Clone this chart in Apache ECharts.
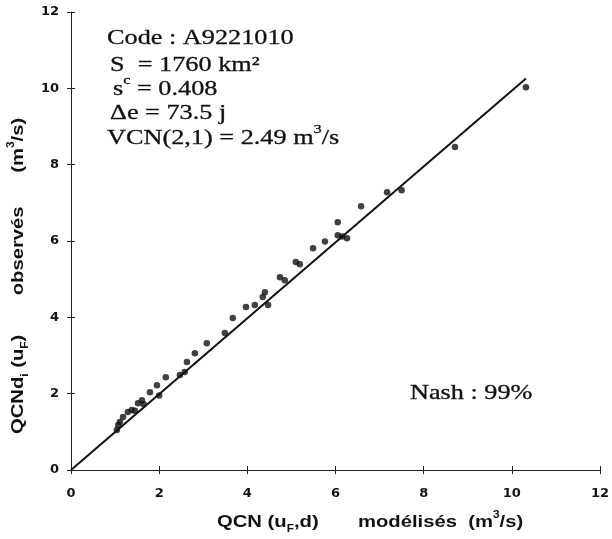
<!DOCTYPE html>
<html><head><meta charset="utf-8">
<script src="https://cdn.jsdelivr.net/npm/echarts@6/dist/echarts.min.js"></script>
<style>html,body{margin:0;padding:0;background:#fff}#c{width:612px;height:539px}</style>
</head><body><div id="c"></div>
<script>
// observed vs modelled (x = modélisés, y = observés), m3/s
const modelled = [1.04,1.07,1.11,1.18,1.29,1.38,1.45,1.52,1.61,1.65,1.79,1.95,2.00,2.15,2.47,2.58,2.63,2.81,3.08,3.49,3.67,3.97,4.17,4.35,4.40,4.47,4.74,4.85,5.10,5.19,5.49,5.76,6.05,6.05,6.15,6.26,6.58,7.17,7.50,8.71,10.32];
const observed = [1.05,1.18,1.26,1.39,1.52,1.57,1.55,1.75,1.83,1.72,2.04,2.22,1.95,2.43,2.49,2.57,2.83,3.06,3.32,3.59,3.98,4.27,4.32,4.53,4.66,4.32,5.05,4.97,5.45,5.39,5.81,5.99,6.49,6.15,6.12,6.07,6.91,7.28,7.33,8.46,10.03];
const fitLine = [[0,0],[10.32,10.26]];
const axisTicks = [0,2,4,6,8,10,12];
const infoLines = ['Code : A9221010','S  = 1760 km²','s{sup|c} = 0.408','Δe = 73.5 j','VCN(2,1) = 2.49 m{sup|3}/s'];
const nashText = 'Nash : 99%';
const xName = 'QCN (u{sub|F},d)       modélisés  (m{sup|3}/s)';
const yName = 'QCNd{sub|i} (u{sub|F})       observés      (m{sup|3}/s)';

const chart = echarts.init(document.getElementById('c'), null, {renderer:'canvas'});
const pts = modelled.map((x,i)=>[x,observed[i]]);
const lab = {fontFamily:'DejaVu Sans', fontWeight:'bold', fontSize:13, color:'#111'};
function axisBase(show, margin){
  return {type:'value', min:axisTicks[0], max:axisTicks[axisTicks.length-1], interval:2,
    splitLine:{show:false},
    axisLine:{show:show, lineStyle:{color:'#222', width:1}},
    axisTick:{show:true, inside:!show, length:4, lineStyle:{color:'#222', width:1}},
    axisLabel:Object.assign({show:show, margin:margin}, lab)};
}
const serif = 'Liberation Serif, Times New Roman, serif';
const infoY = [38,65,89,113,138];
const infoX = [107,110,113,110,107];
const graphics = infoLines.map((t,i)=>({
  type:'text', x:infoX[i], y:infoY[i], scaleX:1.25,
  style:{text:t, font:'21px '+serif, fill:'#111', stroke:'#111', lineWidth:0.3, verticalAlign:'middle', align:'left',
    rich:{sup:{fontSize:13, fontFamily:serif, fill:'#111', stroke:'#111', lineWidth:0.3, verticalAlign:'top', lineHeight:30}}}
}));
graphics.push({type:'text', x:410, y:393, scaleX:1.25,
  style:{text:nashText, font:'21px '+serif, fill:'#111', stroke:'#111', lineWidth:0.3, verticalAlign:'middle', align:'left'}});
const sansFam = 'Liberation Sans, Arial';
const richSS = {
  sub:{fontSize:10, fontWeight:'bold', fontFamily:sansFam, fill:'#111', verticalAlign:'bottom', lineHeight:24},
  sup:{fontSize:10, fontWeight:'bold', fontFamily:sansFam, fill:'#111', verticalAlign:'top', lineHeight:24}};
graphics.push({type:'text', x:217, y:522, scaleX:1.19,
  style:{text:xName, fontFamily:sansFam, fontWeight:'bold', fontSize:17, fill:'#111', align:'left', verticalAlign:'middle', rich:richSS}});
graphics.push({type:'text', x:18, y:434, rotation:Math.PI/2, scaleX:1.19,
  style:{text:yName, fontFamily:sansFam, fontWeight:'bold', fontSize:17, fill:'#111', align:'left', verticalAlign:'middle', rich:richSS}});

chart.setOption({
  animation:false,
  backgroundColor:'#fff',
  grid:{left:71, right:12, top:12, bottom:69, containLabel:false, outerBoundsMode:'none'},
  xAxis:[Object.assign(axisBase(true,17),{position:'bottom'}), Object.assign(axisBase(false,17),{position:'bottom'})],
  yAxis:[Object.assign(axisBase(true,12),{position:'left'}), Object.assign(axisBase(false,12),{position:'left'})],
  series:[
    {type:'line', data:fitLine, symbol:'none', lineStyle:{color:'#111', width:2}, xAxisIndex:0, yAxisIndex:0, z:3},
    {type:'scatter', data:pts, symbol:'circle', symbolSize:6.5, itemStyle:{color:'#111'}, xAxisIndex:0, yAxisIndex:0, z:4}
  ],
  graphic:graphics
});
</script></body></html>
